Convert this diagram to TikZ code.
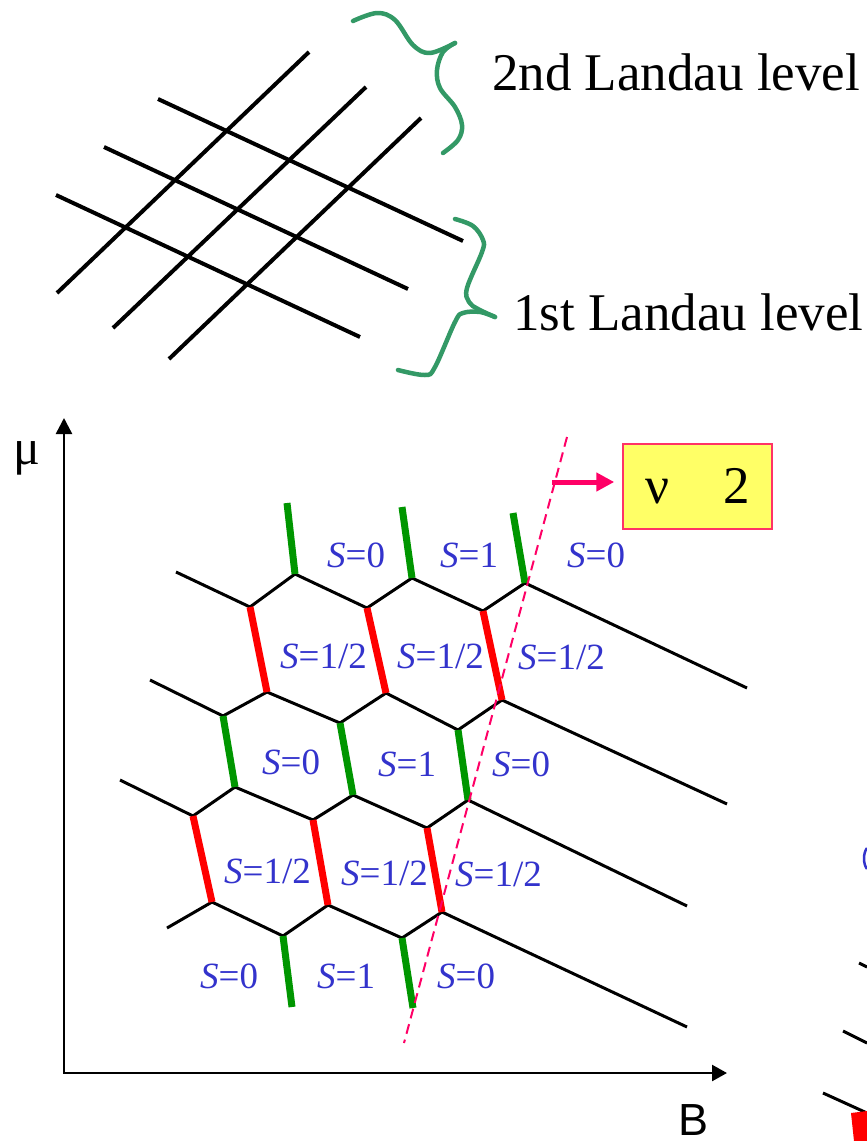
\documentclass[tikz,border=0pt]{standalone}
\usepackage{fontspec}
\setmainfont{Liberation Serif}
\setsansfont{Liberation Sans}
\usetikzlibrary{arrows.meta}
\definecolor{braceg}{RGB}{51,153,102}
\definecolor{spingreen}{RGB}{0,150,0}
\definecolor{spinred}{RGB}{255,0,0}
\definecolor{labblue}{RGB}{51,51,204}
\definecolor{cutpink}{RGB}{255,0,102}
\definecolor{boxfill}{RGB}{255,255,102}
\definecolor{boxedge}{RGB}{255,51,102}
\newcommand{\Sv}[1]{\textit{S}=#1}
\newcommand{\bigfont}{\fontsize{53}{60}\selectfont}
\newcommand{\labfont}{\fontsize{37}{42}\selectfont}

\begin{document}
\begin{tikzpicture}[
      x=1pt,y=-1pt,
      grid/.style={line width=4pt},
      lbrace/.style={draw=braceg,line width=4.5pt,line cap=round,line join=round},
      hexline/.style={line width=3pt},
      spinzero/.style={draw=spingreen,line width=7pt},
      spinhalf/.style={draw=spinred,line width=7pt},
      slab/.style={font=\labfont,text=labblue,inner sep=0pt,anchor=base west},
      level/.style={font=\bigfont,inner sep=0pt,anchor=base west},
      axis/.style={line width=2.5pt,line join=miter,{Triangle[length=16pt,width=16pt]}-{Triangle[length=15pt,width=16pt]}},
      nubox/.style={draw=boxedge,fill=boxfill,line width=1.5pt,minimum width=149pt,minimum height=85pt,font=\bigfont,inner sep=0pt},
      cut/.style={draw=cutpink,line width=2pt,dash pattern=on 10pt off 6pt},
      push/.style={draw=cutpink,line width=5pt,-{Triangle[length=18pt,width=18pt]}}
    ]
    \useasboundingbox (0,0) rectangle (867,1141);

    % Landau level grid
    \draw[grid] (57,293) -- (309,52);
    \draw[grid] (113,328) -- (366,87);
    \draw[grid] (169,359) -- (421,118);
    \draw[grid] (158,99) -- (463,241);
    \draw[grid] (104,147) -- (408,289);
    \draw[grid] (56,195) -- (360,337);

    % braces
    \draw[lbrace] plot[smooth,tension=0.6] coordinates {(353,21) (377,13) (395,20) (413,45) (430,53) (455,43)};
    \draw[lbrace] plot[smooth,tension=0.6] coordinates {(455,43) (443,52) (437,70) (440,88) (455,107) (462,125) (458,140) (443,153)};
    \draw[lbrace] plot[smooth,tension=0.6] coordinates {(455,219) (473,226) (483,240) (482,252) (467,288) (469,302) (478,309) (495,317)};
    \draw[lbrace] plot[smooth,tension=0.6] coordinates {(495,317) (480,312) (463,313) (455,322) (435,367) (425,375) (398,370)};

    \node[level] (second) at (492,90) {2nd Landau level};
    \node[level] (first) at (513,330) {1st Landau level};

    % axes
    \coordinate (O) at (64,1073);
    \coordinate (mutip) at (64,418);
    \coordinate (Btip) at (727,1073);
    \draw[axis] (mutip) -- (O) -- (Btip);
    \node[font=\fontsize{50}{56}\selectfont,inner sep=0pt] (mulab) at (27,458) {μ};
    \node[font=\sffamily\fontsize{45}{50}\selectfont,inner sep=0pt,anchor=base west] (Blab) at (678,1135) {B};

    % lattice vertices
    \coordinate (L1) at (176,572);
    \coordinate (A1) at (250,607);
    \coordinate (B1) at (295,574);
    \coordinate (A2) at (367,608);
    \coordinate (B2) at (412,578);
    \coordinate (A3) at (483,611);
    \coordinate (B3) at (525,583);
    \coordinate (R1) at (747,688);
    \coordinate (T1) at (287,503);
    \coordinate (T2) at (402,507);
    \coordinate (T3) at (513,513);
    \coordinate (L2) at (150,680);
    \coordinate (D1) at (223,716);
    \coordinate (C1) at (267,692);
    \coordinate (D2) at (340,723);
    \coordinate (C2) at (386,693);
    \coordinate (D3) at (458,730);
    \coordinate (C3) at (502,700);
    \coordinate (R2) at (727,804);
    \coordinate (L3) at (120,780);
    \coordinate (F1) at (193,816);
    \coordinate (E1) at (235,787);
    \coordinate (F2) at (313,820);
    \coordinate (E2) at (353,795);
    \coordinate (F3) at (427,828);
    \coordinate (E3) at (468,800);
    \coordinate (R3) at (687,906);
    \coordinate (L4) at (167,928);
    \coordinate (G1) at (212,902);
    \coordinate (H1) at (283,936);
    \coordinate (G2) at (328,905);
    \coordinate (H2) at (402,938);
    \coordinate (G3) at (442,912);
    \coordinate (R4) at (687,1027);
    \coordinate (U1) at (292,1007);
    \coordinate (U2) at (413,1008);

    % lattice
    \draw[hexline] (L1) -- (A1) -- (B1) -- (A2) -- (B2) -- (A3) -- (B3) -- (R1);
    \draw[hexline] (L2) -- (D1) -- (C1) -- (D2) -- (C2) -- (D3) -- (C3) -- (R2);
    \draw[hexline] (L3) -- (F1) -- (E1) -- (F2) -- (E2) -- (F3) -- (E3) -- (R3);
    \draw[hexline] (L4) -- (G1) -- (H1) -- (G2) -- (H2) -- (G3) -- (R4);
    \draw[spinzero] (B1) -- (T1);
    \draw[spinzero] (B2) -- (T2);
    \draw[spinzero] (B3) -- (T3);
    \draw[spinhalf] (A1) -- (C1);
    \draw[spinhalf] (A2) -- (C2);
    \draw[spinhalf] (A3) -- (C3);
    \draw[spinzero] (D1) -- (E1);
    \draw[spinzero] (D2) -- (E2);
    \draw[spinzero] (D3) -- (E3);
    \draw[spinhalf] (F1) -- (G1);
    \draw[spinhalf] (F2) -- (G2);
    \draw[spinhalf] (F3) -- (G3);
    \draw[spinzero] (H1) -- (U1);
    \draw[spinzero] (H2) -- (U2);

    % spin labels
    \node[slab] (s11) at (327,567) {\Sv{0}};
    \node[slab] (s12) at (440,567) {\Sv{1}};
    \node[slab] (s13) at (567,567) {\Sv{0}};
    \node[slab] (s21) at (280,668) {\Sv{1/2}};
    \node[slab] (s22) at (397,668) {\Sv{1/2}};
    \node[slab] (s23) at (518,669) {\Sv{1/2}};
    \node[slab] (s31) at (262,774) {\Sv{0}};
    \node[slab] (s32) at (378,776) {\Sv{1}};
    \node[slab] (s33) at (492,776) {\Sv{0}};
    \node[slab] (s41) at (224,883) {\Sv{1/2}};
    \node[slab] (s42) at (341,885) {\Sv{1/2}};
    \node[slab] (s43) at (455,886) {\Sv{1/2}};
    \node[slab] (s51) at (200,988) {\Sv{0}};
    \node[slab] (s52) at (317,988) {\Sv{1}};
    \node[slab] (s53) at (437,988) {\Sv{0}};

    % filling boundary
    \coordinate (cuttop) at (567,437);
    \coordinate (cutbot) at (404,1043);
    \draw[cut] (cuttop) -- (cutbot);
    \node[nubox] (nu) at (697.5,486.5) {ν\hspace{54pt}2};
    \coordinate (cutarr) at (552,482);
    \draw[push,shorten >=8pt] (cutarr) -- (cutarr -| nu.west);

    % pieces of the next panel at the edge
    \draw[labblue,line width=2.5pt] (867,848) .. controls (863,853) and (863,864) .. (867,869);
    \draw[hexline] (859,963) -- (867,967);
    \draw[hexline] (843,1031) -- (867,1043);
    \draw[hexline] (823,1093) -- (867,1113);
    \fill[spinred] (851,1113) -- (867,1111) -- (867,1141) -- (854,1141) -- cycle;
  \end{tikzpicture}
\end{document}
